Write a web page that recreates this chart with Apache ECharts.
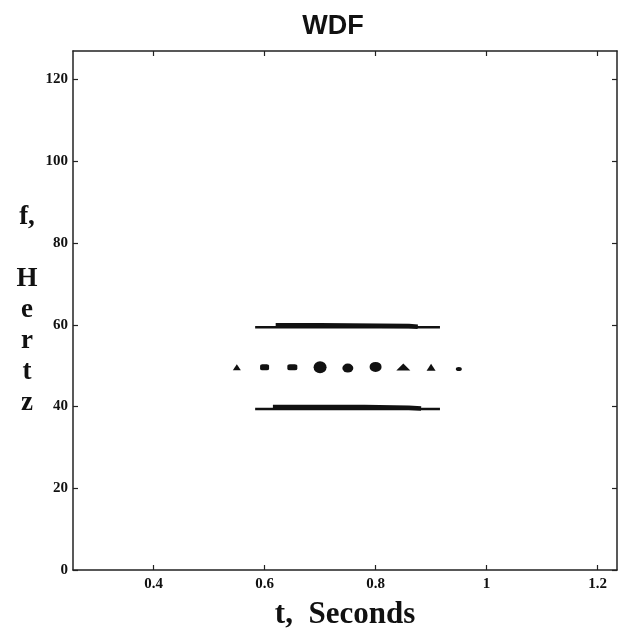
<!DOCTYPE html>
<html><head><meta charset="utf-8">
<script src="https://cdn.jsdelivr.net/npm/echarts@6/dist/echarts.min.js"></script>
<style>html,body{margin:0;padding:0;background:#fff}#c{width:618px;height:639px}</style>
</head><body><div id="c"></div>
<script>
// ---- data ----
var xTicks = [0.4, 0.6, 0.8, 1.0, 1.2];
var yTicks = [0, 20, 40, 60, 80, 100, 120];
// auto-term at ~60 Hz: thin ridge and thick core
var upperThin = [[0.583, 59.4], [0.916, 59.4]];
var upperThick = [[0.620, 59.9], [0.700, 59.9], [0.860, 59.7], [0.876, 59.5]];
// auto-term at ~40 Hz
var lowerThin = [[0.583, 39.4], [0.916, 39.4]];
var lowerThick = [[0.615, 39.9], [0.780, 39.9], [0.860, 39.7], [0.882, 39.5]];
// cross-term at ~50 Hz (oscillating blobs)
var crossT = [0.55, 0.60, 0.65, 0.70, 0.75, 0.80, 0.85, 0.90, 0.95];
var crossF = [49.6, 49.6, 49.6, 49.6, 49.4, 49.7, 49.7, 49.6, 49.2];
var crossShape = ['triangle', 'roundRect', 'roundRect', 'circle', 'circle', 'circle', 'triangle', 'triangle', 'circle'];
var crossSize = [[8, 6], [9, 6], [10, 6], [13, 12], [11, 9], [12, 10], [14, 7], [9, 7], [6, 4]];

var chart = echarts.init(document.getElementById('c'));
var serif = '"Liberation Serif", "Times New Roman", serif';
var ink = '#111';

function frameAxisX(pos, showLabels, name) {
  return {
    type: 'value', position: pos, min: 0.2548, max: 1.235,
    name: name || '', nameLocation: 'middle', nameGap: 45,
    nameTextStyle: {fontFamily: serif, fontWeight: 'bold', fontSize: 31, color: ink, verticalAlign: 'middle'},
    axisLine: {show: true, onZero: false, lineStyle: {color: '#222', width: 1.5}},
    axisTick: {show: true, inside: true, length: 5, customValues: xTicks, lineStyle: {color: '#222', width: 1.2}},
    axisLabel: {show: showLabels, customValues: xTicks, margin: 7, fontFamily: serif, fontWeight: 'bold', fontSize: 15, color: ink},
    splitLine: {show: false}
  };
}
function frameAxisY(pos, showLabels, name) {
  return {
    type: 'value', position: pos, min: 0, max: 127,
    name: name || '', nameLocation: 'middle', nameGap: 46, nameRotate: 0,
    nameTextStyle: {fontFamily: serif, fontWeight: 'bold', fontSize: 27, color: ink, align: 'center', verticalAlign: 'middle', lineHeight: 31},
    axisLine: {show: true, onZero: false, lineStyle: {color: '#222', width: 1.5}},
    axisTick: {show: true, inside: true, length: 5, customValues: yTicks, lineStyle: {color: '#222', width: 1.2}},
    axisLabel: {show: showLabels, customValues: yTicks, margin: 5, fontFamily: serif, fontWeight: 'bold', fontSize: 15, color: ink},
    splitLine: {show: false}
  };
}

var crossData = crossT.map(function (t, i) {
  return {value: [t, crossF[i]], symbol: crossShape[i], symbolSize: crossSize[i]};
});

function ridge(data, width) {
  return {
    type: 'line', data: data, symbol: 'none', silent: true, animation: false,
    lineStyle: {color: ink, width: width, cap: 'butt'}
  };
}

chart.setOption({
  animation: false,
  title: {
    text: 'WDF', left: 328, top: 8, textAlign: 'center',
    textStyle: {fontFamily: '"Liberation Sans", Arial, sans-serif', fontWeight: 'bold', fontSize: 27, color: ink}
  },
  grid: {left: 73, right: 1, top: 51, bottom: 69, containLabel: false},
  xAxis: [frameAxisX('bottom', true, 't,  Seconds'), frameAxisX('top', false)],
  yAxis: [frameAxisY('left', true, 'f,\n\nH\ne\nr\nt\nz'), frameAxisY('right', false)],
  series: [
    ridge(upperThin, 2.5),
    ridge(upperThick, 4.5),
    ridge(lowerThin, 2.5),
    ridge(lowerThick, 4.5),
    {
      type: 'scatter', data: crossData, silent: true,
      itemStyle: {color: ink, opacity: 1}
    }
  ]
});
</script>
</body></html>
